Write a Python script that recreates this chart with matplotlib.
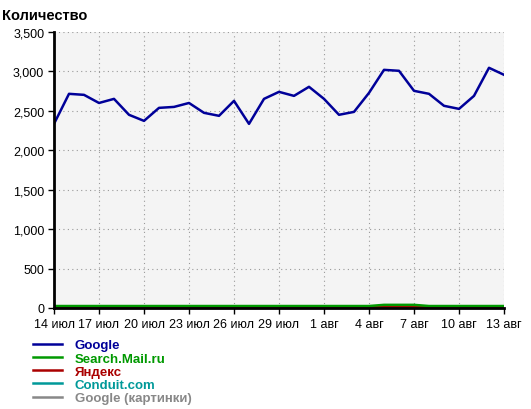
import matplotlib
matplotlib.use("Agg")
import matplotlib.pyplot as plt
import numpy as np

days = ['14 июл', '15 июл', '16 июл', '17 июл', '18 июл', '19 июл', '20 июл', '21 июл',
        '22 июл', '23 июл', '24 июл', '25 июл', '26 июл', '27 июл', '28 июл', '29 июл',
        '30 июл', '31 июл', '1 авг', '2 авг', '3 авг', '4 авг', '5 авг', '6 авг',
        '7 авг', '8 авг', '9 авг', '10 авг', '11 авг', '12 авг', '13 авг']

google = [2335, 2716, 2703, 2600, 2652, 2450, 2373, 2538, 2550, 2600, 2475, 2437,
          2627, 2335, 2652, 2741, 2690, 2805, 2652, 2450, 2487, 2728, 3020, 3008,
          2754, 2716, 2564, 2525, 2690, 3046, 2957]
search_mail = [25, 25, 25, 25, 25, 25, 25, 25, 25, 25, 25, 25, 25, 25, 25, 25,
               25, 25, 25, 25, 25, 25, 40, 40, 40, 25, 25, 25, 25, 25, 25]
yandex = [20, 8, 8, 8, 8, 8, 8, 8, 8, 8, 8, 8, 8, 8, 8, 8,
          8, 8, 8, 8, 8, 8, 18, 18, 18, 8, 8, 8, 8, 8, 8]
conduit = [5, 5, 5, 5, 5, 5, 5, 5, 5, 10, 10, 5, 5, 5, 5, 5,
           5, 5, 10, 5, 5, 5, 5, 5, 5, 5, 5, 5, 5, 5, 5]
google_img = [5, 5, 10, 10, 5, 5, 5, 5, 5, 5, 5, 5, 5, 5, 10, 5,
              5, 5, 5, 5, 10, 10, 5, 5, 5, 5, 5, 5, 10, 5, 5]

series = [
    ('Google', google, '#000099'),
    ('Search.Mail.ru', search_mail, '#009900'),
    ('Яндекс', yandex, '#aa0000'),
    ('Conduit.com', conduit, '#009999'),
    ('Google (картинки)', google_img, '#888888'),
]

plt.rcParams['font.family'] = ['Liberation Sans', 'DejaVu Sans']

fig = plt.figure(figsize=(5.31, 4.10), dpi=100)
ax = fig.add_axes([54 / 531, 101 / 410, 450 / 531, 276 / 410])
ax.set_facecolor('#f4f4f4')

x = np.arange(len(days))
lines = []
# small series first so the Google line sits on top
for name, vals, color in reversed(series):
    ln, = ax.plot(x, vals, color=color, linewidth=1.8, label=name)
    lines.append(ln)
lines = lines[::-1]

ax.set_xlim(0, len(days) - 1)
ax.set_ylim(0, 3500)
ax.set_yticks(np.arange(0, 3501, 500))
ax.set_yticklabels(['{:,}'.format(v) for v in range(0, 3501, 500)])
ax.set_xticks(x[::3])
ax.set_xticklabels(days[::3])
ax.tick_params(labelsize=9, length=4, width=1, direction='out', pad=3)
ax.grid(True, color='#999999', linestyle=(0, (1, 3)), linewidth=0.8)

for side in ['top', 'right']:
    ax.spines[side].set_visible(False)
for side in ['left', 'bottom']:
    ax.spines[side].set_linewidth(2)
    ax.spines[side].set_color('black')

fig.text(2 / 531, 1 - 16 / 410, 'Количество', fontsize=10.5, fontweight='bold', va='center', ha='left')

leg = fig.legend(handles=lines, labels=[s[0] for s in series],
                 loc='upper left', bbox_to_anchor=(33 / 531, 1 - 340 / 410),
                 frameon=False, prop={'weight': 'bold', 'size': 9.5},
                 handlelength=2.2, handletextpad=0.95, labelspacing=0.08,
                 borderpad=0, borderaxespad=0)
for txt, s in zip(leg.get_texts(), series):
    txt.set_color(s[2])

fig.savefig('out.png', dpi=100)
